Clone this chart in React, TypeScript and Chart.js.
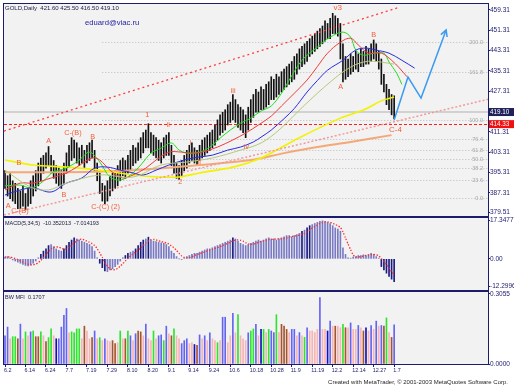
import React, { useEffect, useRef } from 'react';
import { Chart, registerables } from 'chart.js';
Chart.register(...registerables);

// ---------------- DATA ----------------
const barHigh = [
  396,394,395,392,391,389,388,390,387,389,
  392,394,396,399,401,402,403,405.5,402,400,
  398,397,396,399,403,406,409,408,407,405,
  406,404,406,407,408,404,399,395,391,390,
  392,394,395,396,398,400,401,400,402,404,
  406,405,407,409,411,412,414.5,411,410,409,
  408,407,409,410,411,406,402,399,398,400,
  402,404,406,407,405,404,406,408,409,410,
  411,412,414,416,418,419,420,422,423,426,
  424,422,421,420,418,421,424,426,428,427,
  429,428,430,431,433,432,434,433,435,436,
  437,438,439,441,442,444,445,446,447,448,
  449,450,451,452,453,455,454,456,458,457,
  456,454,446,441,440,442,441,443,442,444,
  443,445,444,446,447.5,446,443,440,434,430,
  428,426,425.5,
];
const barLow = [
  389,386,385,384,383,381,381,382,380.5,382,
  383,386,388,390,392,395,397,398,395,393,
  391,390,389,391,395,398,400,401,399,398,
  399,397,399,400,401,396,392,387,384,383,
  384,386,388,389,390,392,394,393,395,396,
  398,399,400,401,403,405,405,403,402,401,
  400,399,401,402,402,398,395,393,392.5,394,
  396,397,399,400,399,398,400,401,402,403,
  404,405,406,408,410,411,412,414,415,416,
  415,413,412,411,409,412,415,417,419,419,
  420,420,421,422,424,424,425,426,427,428,
  429,430,431,432,434,436,437,438,439,441,
  442,443,444,445,446,447,448,448,450,450,
  449,440,431,432,433,434,435,436,435,437,
  437,438,438,439,440,439,436,430,427,422,
  420,418,416.5,
];

// moving averages [barIndex, price]
const lipsGreen = [[0,390.0],[6,390.3],[10,389.2],[14,391.1],[19,395.5],[24,397.0],[29,400.2],[33,403.3],[37,399.4],[41,393.5],[45,392.3],[49,394.3],[53,398.2],[57,402.9],[61,404.9],[65,406.9],[68,404.1],[71,402.9],[76,403.3],[80,405.3],[84,408.8],[88,412.0],[92,414.7],[96,416.7],[100,419.5],[104,421.5],[108,426.5],[111,431.7],[116,439.5],[122,444.7],[127,448.6],[132,450.6],[135,448.6],[137,443.5],[140,441.5],[144,442.3],[148,442.3],[150,438.8],[153,434.4],[155,430.0]];
const teethRed = [[0,388.4],[6,391.1],[11,391.1],[18,393.1],[24,395.1],[28,397.4],[34,401.0],[37,400.2],[41,396.2],[46,393.1],[50,394.3],[55,397.0],[59,400.2],[64,403.3],[69,403.3],[73,402.9],[77,403.3],[83,405.3],[89,408.1],[94,410.8],[99,414.0],[104,417.5],[108,421.5],[113,426.5],[118,431.7],[122,437.0],[126,442.3],[131,446.6],[135,448.2],[138,445.5],[142,442.3],[147,442.3],[151,439.5],[154,436.5],[157,433.0]];
const jawBlue = [[0,386.4],[6,388.4],[11,389.2],[18,387.6],[24,391.1],[30,393.1],[35,397.0],[40,397.4],[45,396.2],[50,395.1],[54,394.3],[59,396.2],[64,398.2],[70,400.2],[76,401.4],[81,402.1],[87,404.1],[92,405.3],[97,407.3],[100,409.2],[104,412.0],[109,416.5],[113,420.5],[118,427.0],[122,431.5],[126,435.6],[132,439.5],[137,443.5],[141,444.3],[145,443.5],[150,442.3],[155,439.5],[160,436.4]];
const maKhaki = [[0,396.2],[10,389.5],[17,388.4],[24,391.1],[37,394.3],[50,393.5],[61,398.2],[71,399.4],[81,401.0],[92,404.1],[100,406.9],[107,412.0],[117,421.8],[127,430.9],[135,436.8],[142,439.1],[152,438.0]];
const maYellow = [[0,400.2],[11,398.2],[24,397.4],[37,396.2],[50,394.3],[61,393.5],[68,393.5],[76,395.1],[89,397.4],[100,401.0],[115,409.0],[131,416.7],[140,419.9],[147,423.5],[152,425.0]];
const maOrange = [[0,395.4],[24,395.4],[50,396.2],[76,398.2],[96,400.2],[109,402.9],[122,405.3],[135,407.3],[151,410.0]];
const channelUpper = [[-0.4,411.6],[154.1,460.4]];
const channelLower = [[-0.4,378.5],[189,424.2]];
const forecast = [[152,416.0],[157.4,432.9],[162.5,424.6],[172.3,451.4]];

const fibStartIdx = 38;
const fibLow = 385.2;
const fibHigh = 415.9;
const fibLevels = [0, 23.6, 38.2, 50.0, 61.8, 76.4, 100.0, 161.8, 200.0];

const lastClose = 419.10;
const alertPrice = 414.33;

const waveText = ['A','C-(B)','B','A','B','C-(B)','B','C-(C) (2)','1','ii','2','i','ii','iii','iv','v3','A','B','C-4'];
const waveIdx = [1.2,5.8,5.4,17.1,23,26.5,34.2,39.3,55.6,63.8,68.5,72.4,75.9,89.1,94.2,130,131.1,144,152.5];
const wavePrice = [382.1,380.1,399.0,407.7,386.4,410.8,409.2,381.7,417.9,414.0,391.5,406.9,399.4,427.3,405.3,460.0,428.9,449.4,412.0];

const priceTicks = [379.51, 387.31, 395.31, 403.31, 411.31, 427.31, 435.31, 443.31, 451.31, 459.31];

const macd = [
  0.8,1.0,0.5,-0.5,-1.0,-1.5,-2.0,-2.5,-3.0,-3.2,
  -2.8,-2.0,-1.0,0.5,2.0,3.5,4.5,6.0,6.5,5.5,
  4.5,3.8,3.5,4.5,6.0,7.5,8.5,9.5,9.0,8.5,
  8.0,7.5,7.0,6.5,5.5,3.5,0.5,-2.0,-4.0,-5.5,
  -5.8,-5.0,-4.5,-3.5,-2.5,-1.0,0.5,1.5,2.5,3.0,
  3.5,4.5,6.0,7.5,8.5,9.0,9.8,8.5,8.0,7.8,
  7.5,7.2,7.0,6.5,5.5,3.5,2.5,1.0,0.0,-0.3,
  0.5,1.0,1.5,2.0,2.5,2.5,3.0,3.5,4.0,4.5,
  4.5,5.0,5.5,6.0,6.5,7.0,7.5,8.0,8.5,9.5,
  9.0,8.0,7.0,6.5,6.0,6.5,7.0,7.5,8.0,8.5,
  8.0,8.5,9.0,9.5,9.0,9.0,8.5,9.0,9.5,10.0,
  10.5,10.5,10.0,10.5,11.0,11.5,12.5,13.0,14.0,15.0,
  15.5,16.0,16.5,17.0,17.2,17.0,16.5,16.0,15.0,14.0,
  13.5,12.5,5.0,2.0,0.5,0.3,0.8,1.0,1.5,1.5,
  1.8,1.5,2.0,2.5,2.0,1.0,0.3,-3.5,-5.0,-6.5,
  -8.0,-9.2,-10.35,
];
const macdSignal = [
  0.8,0.9,0.8,0.5,0.2,-0.3,-0.9,-1.5,-2.0,-2.4,
  -2.7,-2.7,-2.4,-1.7,-0.7,0.6,1.9,3.3,4.5,5.2,
  5.4,5.3,4.8,4.4,4.5,5.2,6.0,7.2,8.1,8.8,
  8.9,8.5,8.0,7.5,6.9,6.0,4.6,2.7,0.7,-1.7,
  -3.4,-4.5,-5.0,-4.9,-4.3,-3.3,-2.2,-1.0,0.2,1.3,
  2.2,3.0,3.9,4.9,6.0,7.1,8.2,8.7,8.8,8.6,
  8.2,7.8,7.5,7.2,6.7,5.9,5.0,3.8,2.5,1.3,
  0.7,0.4,0.5,0.9,1.5,1.9,2.3,2.7,3.1,3.5,
  3.9,4.3,4.7,5.1,5.5,6.0,6.5,7.0,7.5,8.1,
  8.5,8.6,8.4,8.0,7.3,6.8,6.6,6.7,7.0,7.5,
  7.8,8.1,8.4,8.7,8.8,8.9,9.0,9.0,9.0,9.2,
  9.5,9.9,10.1,10.3,10.5,10.7,11.1,11.5,12.2,13.0,
  13.9,14.6,15.3,16.0,16.4,16.7,16.7,16.5,16.1,15.5,
  15.0,14.2,12.2,9.4,6.7,4.1,1.7,0.9,0.8,1.0,
  1.3,1.5,1.7,1.9,2.0,1.8,1.4,0.1,-1.1,-2.6,
  -4.4,-5.8,-7.01,
];
const macdTicks = [-12.2996, 0, 17.3477];
const macdTickLabels = ['-12.2996', '0.00', '17.3477'];

const mfi = [
  0.123,0.161,0.110,0.119,0.119,0.110,0.174,0.110,0.140,0.123,
  0.140,0.144,0.119,0.119,0.140,0.123,0.098,0.115,0.153,0.123,
  0.110,0.110,0.161,0.212,0.242,0.136,0.140,0.136,0.153,0.153,
  0.110,0.165,0.144,0.110,0.115,0.144,0.110,0.115,0.102,0.110,
  0.102,0.098,0.102,0.089,0.093,0.144,0.110,0.110,0.144,0.123,
  0.102,0.132,0.144,0.140,0.123,0.174,0.110,0.102,0.144,0.110,
  0.123,0.127,0.102,0.165,0.132,0.123,0.153,0.123,0.110,0.089,
  0.102,0.110,0.089,0.093,0.085,0.081,0.127,0.110,0.123,0.102,
  0.136,0.110,0.102,0.093,0.102,0.204,0.204,0.093,0.123,0.221,
  0.136,0.216,0.123,0.110,0.102,0.136,0.144,0.153,0.173,0.123,
  0.151,0.151,0.137,0.151,0.144,0.137,0.215,0.137,0.173,0.165,
  0.151,0.137,0.151,0.151,0.123,0.137,0.123,0.116,0.158,0.144,
  0.144,0.137,0.151,0.290,0.151,0.151,0.144,0.187,0.165,0.165,
  0.165,0.158,0.173,0.158,0.158,0.179,0.151,0.151,0.168,0.158,
  0.144,0.158,0.144,0.168,0.151,0.187,0.165,0.168,0.165,0.201,
  0.137,0.116,0.1707,
];
// B = blue, D = dark blue, G = green, R = brown, P = pink
const mfiType =
  'BBPGGRBPGP' + 'BGRRGPRGGP' + 'DBBBBPGGGG' + 'PRPPRBPGPB' + 'PPRRPGPRGB' +
  'PBRRPBPPGP' + 'BBGBPRGPPB' + 'BBPPDRBPBP' + 'BPPGPBBPPB' + 'PGPPPBGGBP' +
  'DGPGBBGPRR' + 'RPBBPBPGBP' + 'PPPBPPDBPR' + 'PPGRPBPPBP' + 'RDPBPBPBRG' +
  'PRB';
const mfiTicks = [0, 0.3055];
const mfiTickLabels = ['0.0000', '0.3055'];

const dateTickIdx = [0,8,16,24,32,40,48,56,64,72,80,88,96,104,112,120,128,136,144,152];
const dateLabels = ['6.2','6.14','6.24','7.7','7.19','7.29','8.10','8.20','9.1','9.14','9.24','10.6','10.18','10.28','11.9','11.19','12.2','12.14','12.27','1.7'];

const headerText = 'GOLD,Daily  421.60 425.50 416.50 419.10';
const macdText = 'MACD(5,34,5)  -10.352013  -7.014193';
const mfiText = 'BW MFI  0.1707';
const authorText = 'eduard@viac.ru';
const creditText = 'Created with MetaTrader, \u00A9 2001-2003 MetaQuotes Software Corp.';

// ---------------- STYLE ----------------
const FONT = '"Liberation Sans", Arial, sans-serif';
const NAVY = '#1c1c6c';
const PANE_BG = '#f2f2f2';
const WAVE_COLOR = '#f5603a';
const X_MIN = -0.4;
const X_MAX = 188.66;
const MFI_COLORS: Record<string, string> = { B: '#6464f2', D: '#1010c0', G: '#2ee42e', R: '#a5552e', P: '#f6b4b4' };

const pts = (arr: number[][]) => arr.map(([x, y]) => ({ x, y }));

const lineDs = (arr: number[][], color: string, width: number, extra: any = {}) => ({
  type: 'line',
  data: pts(arr),
  borderColor: color,
  borderWidth: width,
  pointRadius: 0,
  tension: 0.35,
  fill: false,
  order: 5,
  ...extra,
});

const hiddenX = (): any => ({
  type: 'linear', min: X_MIN, max: X_MAX, offset: false, display: false,
  grid: { offset: false },
});

const yAxis = (min: number, max: number, ticks: number[], labels: string[]): any => ({
  type: 'linear',
  position: 'right',
  min, max,
  afterFit: (s: any) => { s.width = 26; },
  afterBuildTicks: (s: any) => { s.ticks = ticks.map((v) => ({ value: v })); },
  ticks: {
    autoSkip: false, padding: 0, color: NAVY,
    font: { family: FONT, size: 6.5 },
    callback: (_v: any, i: number) => labels[i],
  },
  grid: { drawOnChartArea: false, drawTicks: true, tickLength: 2, color: NAVY },
  border: { display: true, color: NAVY },
});

function paneBg(chart: any) {
  const { ctx, chartArea: a } = chart;
  ctx.save();
  ctx.fillStyle = PANE_BG;
  ctx.fillRect(a.left, a.top, a.right - a.left, a.bottom - a.top);
  ctx.restore();
}
function paneBorder(chart: any) {
  const { ctx, chartArea: a } = chart;
  ctx.save();
  ctx.strokeStyle = NAVY;
  ctx.lineWidth = 1;
  ctx.strokeRect(a.left - 0.5, a.top - 0.5, a.right - a.left + 1, a.bottom - a.top + 1);
  ctx.restore();
}
function paneTitle(chart: any, text: string, size: number) {
  const { ctx, chartArea: a } = chart;
  ctx.save();
  ctx.fillStyle = '#202048';
  ctx.font = `${size}px ${FONT}`;
  ctx.textAlign = 'left';
  ctx.textBaseline = 'middle';
  ctx.fillText(text, a.left + 1, a.top + 5);
  ctx.restore();
}

const mainPlugin = {
  id: 'mainDeco',
  beforeDraw: (chart: any) => paneBg(chart),
  beforeDatasetsDraw: (chart: any) => {
    const { ctx, chartArea: a, scales } = chart;
    const xs = scales.x, ys = scales.y;
    ctx.save();
    ctx.beginPath();
    ctx.rect(a.left, a.top, a.right - a.left, a.bottom - a.top);
    ctx.clip();
    // fibonacci levels
    const fx = xs.getPixelForValue(fibStartIdx);
    ctx.lineWidth = 1;
    fibLevels.forEach((r) => {
      const p = fibLow + ((fibHigh - fibLow) * r) / 100;
      const py = Math.round(ys.getPixelForValue(p)) + 0.5;
      ctx.strokeStyle = '#bdbdbd';
      ctx.setLineDash([1, 2]);
      ctx.beginPath();
      ctx.moveTo(fx, py);
      ctx.lineTo(a.right, py);
      ctx.stroke();
      ctx.setLineDash([]);
      ctx.fillStyle = '#a9a9a9';
      ctx.font = `5.5px ${FONT}`;
      ctx.textAlign = 'right';
      ctx.textBaseline = 'alphabetic';
      ctx.fillText(r.toFixed(1), a.right - 5, py + 1.5);
    });
    // bid line
    const by = ys.getPixelForValue(lastClose);
    ctx.strokeStyle = '#c6c6c6';
    ctx.lineWidth = 1.6;
    ctx.beginPath();
    ctx.moveTo(a.left, by);
    ctx.lineTo(a.right, by);
    ctx.stroke();
    // alert dashed line
    const ay = Math.round(ys.getPixelForValue(alertPrice)) + 0.5;
    ctx.strokeStyle = '#ff1c1c';
    ctx.lineWidth = 1;
    ctx.setLineDash([3, 2]);
    ctx.beginPath();
    ctx.moveTo(a.left, ay);
    ctx.lineTo(a.right, ay);
    ctx.stroke();
    ctx.restore();
  },
  afterDatasetsDraw: (chart: any) => {
    const { ctx, scales } = chart;
    const xs = scales.x, ys = scales.y;
    ctx.save();
    // forecast arrow head
    const n = forecast.length;
    const p1 = { x: xs.getPixelForValue(forecast[n - 2][0]), y: ys.getPixelForValue(forecast[n - 2][1]) };
    const p2 = { x: xs.getPixelForValue(forecast[n - 1][0]), y: ys.getPixelForValue(forecast[n - 1][1]) };
    const ang = Math.atan2(p2.y - p1.y, p2.x - p1.x);
    const L = 7;
    ctx.strokeStyle = '#3a9af2';
    ctx.lineWidth = 1.5;
    ctx.beginPath();
    ctx.moveTo(p2.x - L * Math.cos(ang - 0.5), p2.y - L * Math.sin(ang - 0.5));
    ctx.lineTo(p2.x, p2.y);
    ctx.lineTo(p2.x - L * Math.cos(ang + 0.5), p2.y - L * Math.sin(ang + 0.5));
    ctx.stroke();
    // wave labels
    ctx.fillStyle = WAVE_COLOR;
    ctx.textAlign = 'center';
    ctx.textBaseline = 'middle';
    waveText.forEach((t, i) => {
      ctx.font = `${t === 'v3' || t === 'C-4' ? 8 : 7.3}px ${FONT}`;
      ctx.fillText(t, xs.getPixelForValue(waveIdx[i]), ys.getPixelForValue(wavePrice[i]));
    });
    ctx.restore();
  },
  afterDraw: (chart: any) => {
    const { ctx, chartArea: a, scales } = chart;
    const ys = scales.y;
    paneBorder(chart);
    ctx.save();
    ctx.fillStyle = '#202048';
    ctx.font = `6px ${FONT}`;
    ctx.textAlign = 'left';
    ctx.textBaseline = 'middle';
    ctx.fillText(headerText, a.left + 1, a.top + 4);
    ctx.fillStyle = '#2424a0';
    ctx.font = `7.7px ${FONT}`;
    ctx.fillText(authorText, 85, 23);
    // price boxes
    const boxes: [number, string, string][] = [[lastClose, lastClose.toFixed(2), '#20205a'], [alertPrice, alertPrice.toFixed(2), '#f01010']];
    boxes.forEach(([p, label, bg]) => {
      const py = ys.getPixelForValue(p);
      ctx.fillStyle = bg;
      ctx.fillRect(a.right + 1, py - 4, 25, 8);
      ctx.fillStyle = '#ffffff';
      ctx.font = `6.3px ${FONT}`;
      ctx.fillText(label, a.right + 2, py + 0.5);
    });
    ctx.restore();
  },
};

const macdPlugin = {
  id: 'macdDeco',
  beforeDraw: (chart: any) => paneBg(chart),
  afterDraw: (chart: any) => { paneBorder(chart); paneTitle(chart, macdText, 5.5); },
};

const mfiPlugin = {
  id: 'mfiDeco',
  beforeDraw: (chart: any) => paneBg(chart),
  afterDraw: (chart: any) => {
    paneBorder(chart);
    paneTitle(chart, mfiText, 5.5);
    const { ctx } = chart;
    ctx.save();
    ctx.fillStyle = '#262626';
    ctx.font = `6px ${FONT}`;
    ctx.textAlign = 'right';
    ctx.textBaseline = 'middle';
    ctx.fillText(creditText, 508, 96);
    ctx.restore();
  },
};

const baseOptions = (padding: any): any => ({
  responsive: false,
  animation: false,
  devicePixelRatio: 1,
  events: [],
  layout: { padding },
  plugins: { legend: { display: false }, tooltip: { enabled: false } },
});

export default function App() {
  const mainRef = useRef<HTMLCanvasElement>(null);
  const macdRef = useRef<HTMLCanvasElement>(null);
  const mfiRef = useRef<HTMLCanvasElement>(null);

  useEffect(() => {
    const charts: Chart[] = [];

    charts.push(new Chart(mainRef.current as HTMLCanvasElement, {
      type: 'bar',
      data: {
        datasets: [
          {
            type: 'bar',
            data: barHigh.map((h, i) => ({ x: i, y: [barLow[i], h] })),
            backgroundColor: '#111111',
            barThickness: 1,
            grouped: false,
            order: 10,
          } as any,
          lineDs(maOrange, '#f4a878', 2, { order: 8 }),
          lineDs(maYellow, '#f2f200', 1.6, { order: 7 }),
          lineDs(maKhaki, '#b6c97a', 1),
          lineDs(jawBlue, '#2a2ae2', 1),
          lineDs(teethRed, '#f03c3c', 1),
          lineDs(lipsGreen, '#22dd22', 1),
          lineDs(channelUpper, '#ff3c3c', 1.3, { tension: 0, borderDash: [2, 3] }),
          lineDs(channelLower, '#f29a9a', 1.5, { tension: 0, borderDash: [2, 2] }),
          lineDs(forecast, '#3a9af2', 1.5, { tension: 0, order: 1 }),
        ] as any,
      },
      options: {
        ...baseOptions({ left: 4, top: 4, bottom: 6, right: 0 }),
        scales: {
          x: hiddenX(),
          y: yAxis(378.13, 461.67, priceTicks, priceTicks.map((v) => v.toFixed(2))),
        },
      },
      plugins: [mainPlugin],
    } as any));

    charts.push(new Chart(macdRef.current as HTMLCanvasElement, {
      type: 'bar',
      data: {
        datasets: [
          {
            type: 'bar',
            data: macd.map((v, i) => ({ x: i, y: v })),
            backgroundColor: macd.map((v, i) => (i > 0 && Math.abs(v) - Math.abs(macd[i - 1]) > 0.8 ? '#1c1c80' : '#7a7ac4')),
            barThickness: 1,
            grouped: false,
            order: 5,
          } as any,
          {
            type: 'line',
            data: macdSignal.map((v, i) => ({ x: i, y: v })),
            borderColor: '#ff2a2a',
            borderWidth: 1.3,
            borderDash: [1.3, 1.7],
            pointRadius: 0,
            tension: 0.2,
            order: 1,
          } as any,
        ],
      },
      options: {
        ...baseOptions({ left: 4, top: 6, bottom: 6, right: 0 }),
        scales: {
          x: hiddenX(),
          y: yAxis(-14.11, 18.48, macdTicks, macdTickLabels),
        },
      },
      plugins: [macdPlugin],
    } as any));

    charts.push(new Chart(mfiRef.current as HTMLCanvasElement, {
      type: 'bar',
      data: {
        datasets: [
          {
            type: 'bar',
            data: mfi.map((v, i) => ({ x: i, y: v })),
            backgroundColor: mfi.map((_v, i) => MFI_COLORS[mfiType[i]] || MFI_COLORS.B),
            barThickness: 1,
            grouped: false,
          } as any,
        ],
      },
      options: {
        ...baseOptions({ left: 4, top: 6, bottom: 0, right: 0 }),
        scales: {
          x: {
            type: 'linear', min: X_MIN, max: X_MAX, offset: false, display: true,
            afterFit: (s: any) => { s.height = 22; },
            afterBuildTicks: (s: any) => { s.ticks = dateTickIdx.map((v) => ({ value: v })); },
            ticks: {
              autoSkip: false, maxRotation: 0, minRotation: 0, align: 'start', labelOffset: -1, padding: 0,
              color: NAVY, font: { family: FONT, size: 5.4 },
              callback: (_v: any, i: number) => dateLabels[i],
            },
            grid: { offset: false, drawOnChartArea: false, drawTicks: true, tickLength: 3, color: NAVY },
            border: { display: true, color: NAVY },
          },
          y: yAxis(0, 0.314, mfiTicks, mfiTickLabels),
        },
      },
      plugins: [mfiPlugin],
    } as any));

    return () => charts.forEach((c) => c.destroy());
  }, []);

  return (
    <div style={{ position: 'absolute', left: 0, top: 0, width: 514, height: 386, background: '#ffffff', overflow: 'hidden' }}>
      <canvas ref={mainRef} width={514} height={222} style={{ position: 'absolute', left: 0, top: 0, width: 514, height: 222 }} />
      <canvas ref={macdRef} width={514} height={84} style={{ position: 'absolute', left: 0, top: 212, width: 514, height: 84 }} />
      <canvas ref={mfiRef} width={514} height={100} style={{ position: 'absolute', left: 0, top: 286, width: 514, height: 100 }} />
    </div>
  );
}
